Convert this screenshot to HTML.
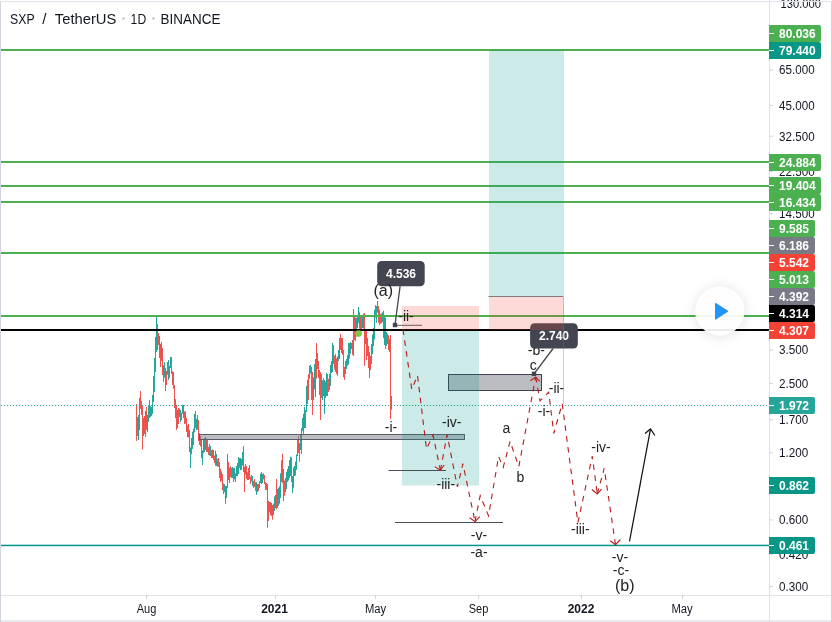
<!DOCTYPE html>
<html><head><meta charset="utf-8"><title>SXP / TetherUS</title>
<style>
html,body{margin:0;padding:0;background:#fff;}
body{width:832px;height:622px;overflow:hidden;font-family:"Liberation Sans",sans-serif;}
svg{display:block;will-change:transform;font-family:"Liberation Sans",sans-serif;font-size:12px;}
</style></head><body>
<svg width="832" height="622" viewBox="0 0 832 622">
<defs>
<filter id="sh" x="-40%" y="-40%" width="180%" height="180%"><feGaussianBlur stdDeviation="5"/></filter>
<clipPath id="chart"><rect x="1" y="1" width="768" height="594"/></clipPath>
</defs>
<rect width="832" height="622" fill="#fff"/>
<!-- candles -->
<g clip-path="url(#chart)">
<rect x="136" y="404.0" width="1" height="37.0" fill="#ef5350"/>
<rect x="137" y="417.0" width="1" height="19.0" fill="#ef5350"/>
<rect x="138" y="415.0" width="1" height="25.0" fill="#26a69a"/>
<rect x="139" y="398.0" width="1" height="32.0" fill="#26a69a"/>
<rect x="140" y="391.0" width="1" height="18.0" fill="#ef5350"/>
<rect x="141" y="401.0" width="1" height="14.0" fill="#ef5350"/>
<rect x="142" y="406.0" width="1" height="43.5" fill="#ef5350"/>
<rect x="143" y="418.0" width="1" height="18.0" fill="#26a69a"/>
<rect x="144" y="416.0" width="1" height="18.0" fill="#ef5350"/>
<rect x="145" y="411.0" width="1" height="26.0" fill="#26a69a"/>
<rect x="146" y="407.0" width="1" height="23.0" fill="#ef5350"/>
<rect x="147" y="415.0" width="1" height="17.0" fill="#26a69a"/>
<rect x="148" y="405.0" width="1" height="17.0" fill="#26a69a"/>
<rect x="149" y="400.0" width="1" height="18.0" fill="#ef5350"/>
<rect x="150" y="406.0" width="1" height="11.0" fill="#26a69a"/>
<rect x="151" y="407.0" width="1" height="9.0" fill="#ef5350"/>
<rect x="152" y="395.0" width="1" height="19.0" fill="#26a69a"/>
<rect x="153" y="376.0" width="1" height="26.0" fill="#26a69a"/>
<rect x="154" y="358.0" width="1" height="34.0" fill="#26a69a"/>
<rect x="155" y="337.0" width="1" height="35.0" fill="#26a69a"/>
<rect x="156" y="316.0" width="1" height="36.0" fill="#26a69a"/>
<rect x="157" y="324.0" width="1" height="26.0" fill="#ef5350"/>
<rect x="158" y="333.0" width="1" height="12.0" fill="#ef5350"/>
<rect x="159" y="336.0" width="1" height="22.0" fill="#26a69a"/>
<rect x="160" y="343.9" width="1" height="23.1" fill="#ef5350"/>
<rect x="161" y="342.0" width="1" height="18.9" fill="#26a69a"/>
<rect x="162" y="348.0" width="1" height="27.0" fill="#ef5350"/>
<rect x="163" y="365.2" width="1" height="16.8" fill="#ef5350"/>
<rect x="164" y="362.0" width="1" height="15.5" fill="#26a69a"/>
<rect x="165" y="368.0" width="1" height="23.0" fill="#26a69a"/>
<rect x="166" y="371.0" width="1" height="14.0" fill="#ef5350"/>
<rect x="167" y="362.0" width="1" height="12.8" fill="#26a69a"/>
<rect x="168" y="360.0" width="1" height="20.0" fill="#26a69a"/>
<rect x="169" y="365.7" width="1" height="12.3" fill="#ef5350"/>
<rect x="170" y="357.0" width="1" height="11.0" fill="#26a69a"/>
<rect x="171" y="357.0" width="1" height="17.0" fill="#ef5350"/>
<rect x="172" y="371.3" width="1" height="13.7" fill="#ef5350"/>
<rect x="173" y="372.0" width="1" height="16.7" fill="#ef5350"/>
<rect x="174" y="385.0" width="1" height="23.0" fill="#ef5350"/>
<rect x="175" y="399.1" width="1" height="18.9" fill="#ef5350"/>
<rect x="176" y="405.0" width="1" height="25.0" fill="#ef5350"/>
<rect x="177" y="410.0" width="1" height="18.0" fill="#26a69a"/>
<rect x="178" y="408.0" width="1" height="16.0" fill="#ef5350"/>
<rect x="179" y="408.6" width="1" height="8.4" fill="#ef5350"/>
<rect x="180" y="410.0" width="1" height="12.0" fill="#26a69a"/>
<rect x="181" y="412.8" width="1" height="7.2" fill="#26a69a"/>
<rect x="182" y="404.9" width="1" height="8.9" fill="#26a69a"/>
<rect x="183" y="405.0" width="1" height="13.0" fill="#26a69a"/>
<rect x="184" y="411.5" width="1" height="12.5" fill="#ef5350"/>
<rect x="185" y="411.3" width="1" height="12.2" fill="#ef5350"/>
<rect x="186" y="418.0" width="1" height="14.0" fill="#ef5350"/>
<rect x="187" y="425.4" width="1" height="11.6" fill="#26a69a"/>
<rect x="188" y="424.0" width="1" height="13.5" fill="#ef5350"/>
<rect x="189" y="430.0" width="1" height="22.0" fill="#ef5350"/>
<rect x="190" y="447.4" width="1" height="20.6" fill="#26a69a"/>
<rect x="191" y="438.0" width="1" height="16.2" fill="#26a69a"/>
<rect x="192" y="431.7" width="1" height="17.2" fill="#26a69a"/>
<rect x="193" y="428.6" width="1" height="16.4" fill="#26a69a"/>
<rect x="194" y="414.0" width="1" height="18.4" fill="#26a69a"/>
<rect x="195" y="411.0" width="1" height="17.0" fill="#ef5350"/>
<rect x="196" y="418.8" width="1" height="11.2" fill="#26a69a"/>
<rect x="197" y="415.0" width="1" height="14.7" fill="#ef5350"/>
<rect x="198" y="420.0" width="1" height="21.0" fill="#ef5350"/>
<rect x="199" y="433.2" width="1" height="11.8" fill="#ef5350"/>
<rect x="200" y="436.0" width="1" height="10.5" fill="#ef5350"/>
<rect x="201" y="440.0" width="1" height="18.0" fill="#ef5350"/>
<rect x="202" y="450.5" width="1" height="14.5" fill="#26a69a"/>
<rect x="203" y="440.0" width="1" height="13.3" fill="#26a69a"/>
<rect x="204" y="438.0" width="1" height="14.0" fill="#26a69a"/>
<rect x="205" y="437.0" width="1" height="13.0" fill="#ef5350"/>
<rect x="206" y="438.6" width="1" height="13.5" fill="#ef5350"/>
<rect x="207" y="440.0" width="1" height="12.0" fill="#ef5350"/>
<rect x="208" y="446.9" width="1" height="8.1" fill="#ef5350"/>
<rect x="209" y="444.1" width="1" height="11.5" fill="#ef5350"/>
<rect x="210" y="446.0" width="1" height="10.0" fill="#26a69a"/>
<rect x="211" y="450.2" width="1" height="7.8" fill="#ef5350"/>
<rect x="212" y="449.4" width="1" height="8.6" fill="#ef5350"/>
<rect x="213" y="450.0" width="1" height="10.0" fill="#26a69a"/>
<rect x="214" y="455.5" width="1" height="7.5" fill="#ef5350"/>
<rect x="215" y="450.7" width="1" height="15.1" fill="#26a69a"/>
<rect x="216" y="454.0" width="1" height="12.0" fill="#26a69a"/>
<rect x="217" y="458.9" width="1" height="7.7" fill="#ef5350"/>
<rect x="218" y="458.0" width="1" height="8.9" fill="#ef5350"/>
<rect x="219" y="462.0" width="1" height="16.0" fill="#ef5350"/>
<rect x="220" y="468.7" width="1" height="13.3" fill="#ef5350"/>
<rect x="221" y="471.6" width="1" height="9.2" fill="#ef5350"/>
<rect x="222" y="474.0" width="1" height="16.0" fill="#ef5350"/>
<rect x="223" y="483.4" width="1" height="10.6" fill="#ef5350"/>
<rect x="224" y="484.0" width="1" height="8.2" fill="#26a69a"/>
<rect x="225" y="486.0" width="1" height="18.0" fill="#ef5350"/>
<rect x="226" y="485.8" width="1" height="12.2" fill="#26a69a"/>
<rect x="227" y="454.0" width="1" height="34.1" fill="#26a69a"/>
<rect x="228" y="462.0" width="1" height="18.0" fill="#ef5350"/>
<rect x="229" y="467.7" width="1" height="15.3" fill="#26a69a"/>
<rect x="230" y="466.0" width="1" height="11.1" fill="#ef5350"/>
<rect x="231" y="467.7" width="1" height="10.2" fill="#ef5350"/>
<rect x="232" y="467.0" width="1" height="11.0" fill="#26a69a"/>
<rect x="233" y="468.0" width="1" height="14.0" fill="#ef5350"/>
<rect x="234" y="467.8" width="1" height="11.5" fill="#26a69a"/>
<rect x="235" y="473.3" width="1" height="8.7" fill="#26a69a"/>
<rect x="236" y="466.0" width="1" height="10.2" fill="#26a69a"/>
<rect x="237" y="462.9" width="1" height="13.2" fill="#26a69a"/>
<rect x="238" y="457.0" width="1" height="17.0" fill="#26a69a"/>
<rect x="239" y="458.0" width="1" height="9.8" fill="#ef5350"/>
<rect x="240" y="457.9" width="1" height="12.3" fill="#26a69a"/>
<rect x="241" y="459.0" width="1" height="11.0" fill="#26a69a"/>
<rect x="242" y="452.0" width="1" height="13.6" fill="#26a69a"/>
<rect x="243" y="446.0" width="1" height="26.0" fill="#ef5350"/>
<rect x="244" y="466.7" width="1" height="25.3" fill="#ef5350"/>
<rect x="245" y="464.0" width="1" height="10.6" fill="#26a69a"/>
<rect x="246" y="466.0" width="1" height="13.0" fill="#ef5350"/>
<rect x="247" y="472.2" width="1" height="7.8" fill="#ef5350"/>
<rect x="248" y="468.0" width="1" height="12.0" fill="#ef5350"/>
<rect x="249" y="465.0" width="1" height="14.0" fill="#26a69a"/>
<rect x="250" y="476.7" width="1" height="7.3" fill="#ef5350"/>
<rect x="251" y="474.9" width="1" height="6.6" fill="#ef5350"/>
<rect x="252" y="476.0" width="1" height="10.0" fill="#26a69a"/>
<rect x="253" y="480.8" width="1" height="7.2" fill="#ef5350"/>
<rect x="254" y="479.0" width="1" height="7.7" fill="#ef5350"/>
<rect x="255" y="482.1" width="1" height="8.8" fill="#ef5350"/>
<rect x="256" y="482.0" width="1" height="13.0" fill="#26a69a"/>
<rect x="257" y="484.0" width="1" height="8.0" fill="#26a69a"/>
<rect x="258" y="484.0" width="1" height="7.0" fill="#ef5350"/>
<rect x="259" y="481.2" width="1" height="6.8" fill="#26a69a"/>
<rect x="260" y="473.6" width="1" height="9.6" fill="#26a69a"/>
<rect x="261" y="472.0" width="1" height="12.0" fill="#26a69a"/>
<rect x="262" y="474.0" width="1" height="9.0" fill="#26a69a"/>
<rect x="263" y="473.3" width="1" height="6.1" fill="#ef5350"/>
<rect x="264" y="475.0" width="1" height="9.0" fill="#ef5350"/>
<rect x="265" y="482.1" width="1" height="7.9" fill="#ef5350"/>
<rect x="266" y="483.0" width="1" height="6.9" fill="#ef5350"/>
<rect x="267" y="484.0" width="1" height="43.7" fill="#ef5350"/>
<rect x="268" y="500.8" width="1" height="20.2" fill="#ef5350"/>
<rect x="269" y="502.0" width="1" height="10.0" fill="#ef5350"/>
<rect x="270" y="502.0" width="1" height="13.0" fill="#ef5350"/>
<rect x="271" y="503.0" width="1" height="13.0" fill="#26a69a"/>
<rect x="272" y="505.0" width="1" height="14.6" fill="#ef5350"/>
<rect x="273" y="503.7" width="1" height="11.3" fill="#26a69a"/>
<rect x="274" y="496.4" width="1" height="14.6" fill="#26a69a"/>
<rect x="275" y="495.0" width="1" height="13.0" fill="#26a69a"/>
<rect x="276" y="479.0" width="1" height="30.5" fill="#ef5350"/>
<rect x="277" y="489.0" width="1" height="19.0" fill="#26a69a"/>
<rect x="278" y="487.8" width="1" height="18.2" fill="#26a69a"/>
<rect x="279" y="486.3" width="1" height="17.4" fill="#26a69a"/>
<rect x="280" y="473.3" width="1" height="24.6" fill="#26a69a"/>
<rect x="281" y="460.3" width="1" height="21.7" fill="#26a69a"/>
<rect x="282" y="453.7" width="1" height="29.7" fill="#ef5350"/>
<rect x="283" y="469.0" width="1" height="31.8" fill="#ef5350"/>
<rect x="284" y="480.5" width="1" height="15.2" fill="#ef5350"/>
<rect x="285" y="478.0" width="1" height="14.0" fill="#26a69a"/>
<rect x="286" y="471.8" width="1" height="17.4" fill="#26a69a"/>
<rect x="287" y="469.0" width="1" height="13.0" fill="#26a69a"/>
<rect x="288" y="466.0" width="1" height="14.5" fill="#26a69a"/>
<rect x="289" y="460.0" width="1" height="18.0" fill="#26a69a"/>
<rect x="290" y="456.6" width="1" height="19.4" fill="#26a69a"/>
<rect x="291" y="457.4" width="1" height="24.6" fill="#ef5350"/>
<rect x="292" y="476.0" width="1" height="16.8" fill="#26a69a"/>
<rect x="293" y="467.5" width="1" height="20.3" fill="#26a69a"/>
<rect x="294" y="466.0" width="1" height="10.0" fill="#26a69a"/>
<rect x="295" y="461.7" width="1" height="13.8" fill="#ef5350"/>
<rect x="296" y="454.5" width="1" height="15.5" fill="#26a69a"/>
<rect x="297" y="440.0" width="1" height="16.0" fill="#26a69a"/>
<rect x="298" y="436.0" width="1" height="17.0" fill="#ef5350"/>
<rect x="299" y="443.0" width="1" height="18.7" fill="#26a69a"/>
<rect x="300" y="434.0" width="1" height="16.0" fill="#26a69a"/>
<rect x="301" y="428.0" width="1" height="25.7" fill="#26a69a"/>
<rect x="302" y="418.0" width="1" height="13.0" fill="#26a69a"/>
<rect x="303" y="413.8" width="1" height="20.0" fill="#26a69a"/>
<rect x="304" y="407.0" width="1" height="21.0" fill="#26a69a"/>
<rect x="305" y="410.0" width="1" height="18.0" fill="#ef5350"/>
<rect x="306" y="386.0" width="1" height="26.0" fill="#26a69a"/>
<rect x="307" y="379.8" width="1" height="24.2" fill="#26a69a"/>
<rect x="308" y="374.0" width="1" height="26.0" fill="#ef5350"/>
<rect x="309" y="365.7" width="1" height="13.0" fill="#26a69a"/>
<rect x="310" y="365.0" width="1" height="8.6" fill="#26a69a"/>
<rect x="311" y="367.0" width="1" height="33.0" fill="#ef5350"/>
<rect x="312" y="372.0" width="1" height="43.0" fill="#ef5350"/>
<rect x="313" y="377.4" width="1" height="22.6" fill="#26a69a"/>
<rect x="314" y="364.0" width="1" height="25.5" fill="#26a69a"/>
<rect x="315" y="359.0" width="1" height="38.0" fill="#26a69a"/>
<rect x="316" y="343.0" width="1" height="35.7" fill="#ef5350"/>
<rect x="317" y="353.0" width="1" height="16.0" fill="#26a69a"/>
<rect x="318" y="361.0" width="1" height="17.0" fill="#ef5350"/>
<rect x="319" y="370.0" width="1" height="25.0" fill="#ef5350"/>
<rect x="320" y="372.0" width="1" height="48.0" fill="#ef5350"/>
<rect x="321" y="374.0" width="1" height="24.0" fill="#ef5350"/>
<rect x="322" y="380.2" width="1" height="19.8" fill="#26a69a"/>
<rect x="323" y="378.0" width="1" height="18.0" fill="#ef5350"/>
<rect x="324" y="380.0" width="1" height="34.0" fill="#26a69a"/>
<rect x="325" y="381.3" width="1" height="16.7" fill="#26a69a"/>
<rect x="326" y="373.0" width="1" height="23.0" fill="#26a69a"/>
<rect x="327" y="374.0" width="1" height="22.0" fill="#ef5350"/>
<rect x="328" y="378.7" width="1" height="13.3" fill="#ef5350"/>
<rect x="329" y="374.0" width="1" height="16.0" fill="#26a69a"/>
<rect x="330" y="365.0" width="1" height="21.0" fill="#26a69a"/>
<rect x="331" y="361.0" width="1" height="12.0" fill="#26a69a"/>
<rect x="332" y="342.9" width="1" height="29.1" fill="#26a69a"/>
<rect x="333" y="345.0" width="1" height="18.9" fill="#ef5350"/>
<rect x="334" y="355.5" width="1" height="13.8" fill="#ef5350"/>
<rect x="335" y="354.0" width="1" height="18.0" fill="#ef5350"/>
<rect x="336" y="358.4" width="1" height="15.6" fill="#ef5350"/>
<rect x="337" y="356.3" width="1" height="19.5" fill="#26a69a"/>
<rect x="338" y="350.0" width="1" height="11.0" fill="#26a69a"/>
<rect x="339" y="338.0" width="1" height="21.0" fill="#26a69a"/>
<rect x="340" y="334.0" width="1" height="16.0" fill="#ef5350"/>
<rect x="341" y="338.0" width="1" height="15.0" fill="#26a69a"/>
<rect x="342" y="338.0" width="1" height="16.8" fill="#ef5350"/>
<rect x="343" y="350.0" width="1" height="27.2" fill="#ef5350"/>
<rect x="344" y="367.0" width="1" height="12.8" fill="#ef5350"/>
<rect x="345" y="361.0" width="1" height="13.0" fill="#26a69a"/>
<rect x="346" y="359.0" width="1" height="10.0" fill="#26a69a"/>
<rect x="347" y="355.0" width="1" height="10.7" fill="#ef5350"/>
<rect x="348" y="343.0" width="1" height="21.6" fill="#26a69a"/>
<rect x="349" y="343.0" width="1" height="15.8" fill="#ef5350"/>
<rect x="350" y="342.0" width="1" height="11.7" fill="#26a69a"/>
<rect x="351" y="343.0" width="1" height="6.0" fill="#26a69a"/>
<rect x="352" y="340.0" width="1" height="14.8" fill="#ef5350"/>
<rect x="353" y="309.0" width="1" height="47.0" fill="#26a69a"/>
<rect x="354" y="317.0" width="1" height="23.0" fill="#ef5350"/>
<rect x="355" y="317.5" width="1" height="23.5" fill="#ef5350"/>
<rect x="356" y="317.7" width="1" height="18.8" fill="#26a69a"/>
<rect x="357" y="317.0" width="1" height="11.0" fill="#26a69a"/>
<rect x="358" y="307.0" width="1" height="16.0" fill="#26a69a"/>
<rect x="359" y="312.3" width="1" height="16.3" fill="#ef5350"/>
<rect x="360" y="317.0" width="1" height="12.0" fill="#ef5350"/>
<rect x="361" y="317.0" width="1" height="12.0" fill="#ef5350"/>
<rect x="362" y="317.0" width="1" height="11.0" fill="#26a69a"/>
<rect x="363" y="313.7" width="1" height="14.9" fill="#26a69a"/>
<rect x="364" y="313.0" width="1" height="53.0" fill="#ef5350"/>
<rect x="365" y="330.7" width="1" height="13.3" fill="#ef5350"/>
<rect x="366" y="331.0" width="1" height="29.0" fill="#ef5350"/>
<rect x="367" y="338.0" width="1" height="18.0" fill="#ef5350"/>
<rect x="368" y="346.0" width="1" height="22.0" fill="#ef5350"/>
<rect x="369" y="352.0" width="1" height="26.0" fill="#ef5350"/>
<rect x="370" y="356.0" width="1" height="14.0" fill="#ef5350"/>
<rect x="371" y="344.0" width="1" height="20.0" fill="#26a69a"/>
<rect x="372" y="334.4" width="1" height="19.6" fill="#26a69a"/>
<rect x="373" y="327.8" width="1" height="18.2" fill="#26a69a"/>
<rect x="374" y="309.7" width="1" height="29.7" fill="#26a69a"/>
<rect x="375" y="305.0" width="1" height="12.7" fill="#ef5350"/>
<rect x="376" y="306.0" width="1" height="16.8" fill="#26a69a"/>
<rect x="377" y="301.0" width="1" height="11.6" fill="#26a69a"/>
<rect x="378" y="306.0" width="1" height="16.8" fill="#ef5350"/>
<rect x="379" y="309.7" width="1" height="15.3" fill="#ef5350"/>
<rect x="380" y="314.0" width="1" height="9.5" fill="#ef5350"/>
<rect x="381" y="313.4" width="1" height="10.1" fill="#26a69a"/>
<rect x="382" y="312.3" width="1" height="9.7" fill="#26a69a"/>
<rect x="383" y="310.8" width="1" height="27.2" fill="#ef5350"/>
<rect x="384" y="317.0" width="1" height="28.0" fill="#26a69a"/>
<rect x="385" y="317.7" width="1" height="31.3" fill="#ef5350"/>
<rect x="386" y="332.0" width="1" height="14.0" fill="#26a69a"/>
<rect x="387" y="333.6" width="1" height="10.4" fill="#ef5350"/>
<rect x="388" y="335.4" width="1" height="14.6" fill="#ef5350"/>
<rect x="389" y="338.7" width="1" height="13.3" fill="#ef5350"/>
<rect x="390" y="335.0" width="1" height="84.0" fill="#ef5350"/>
<rect x="391" y="396.0" width="1" height="13.7" fill="#26a69a"/>
</g>
<!-- horizontal levels -->
<rect x="1" y="49.0" width="768" height="2" fill="#4caf50"/>
<rect x="1" y="161.0" width="768" height="2" fill="#4caf50"/>
<rect x="1" y="185.0" width="768" height="2" fill="#4caf50"/>
<rect x="1" y="201.0" width="768" height="2" fill="#4caf50"/>
<rect x="1" y="252.0" width="768" height="2" fill="#4caf50"/>
<rect x="1" y="315.0" width="768" height="2" fill="#4caf50"/>
<rect x="1" y="329" width="768" height="2" fill="#000"/>
<rect x="1" y="544.7" width="768" height="1.5" fill="#009688"/>
<path d="M0.9 405.5H769" stroke="#26a69a" stroke-width="1.15" stroke-dasharray="1.2 1.8"/>

<!-- green dot -->
<circle cx="358.6" cy="333.6" r="3.3" fill="#7dc846"/>
<!-- thin grey support boxes -->
<rect x="199.5" y="434.5" width="265" height="5" fill="#787b86" fill-opacity="0.5" stroke="#585c68" stroke-width="1"/>
<rect x="448.5" y="374.5" width="93" height="16" fill="#787b86" fill-opacity="0.5" stroke="#3d424e" stroke-width="1"/>
<!-- position tools -->
<rect x="402" y="306" width="77" height="24" fill="#f44336" fill-opacity="0.2"/>
<rect x="402" y="331" width="77" height="154.5" fill="#009688" fill-opacity="0.2"/>
<rect x="489" y="50" width="75" height="246.5" fill="#009688" fill-opacity="0.2"/>
<path d="M488.5 296.5H563" stroke="#5d606b" stroke-width="0.8"/>
<!-- thin lines -->
<path d="M388.5 470.5H446" stroke="#4a4e5a" stroke-width="1"/>
<path d="M395 522.5H503" stroke="#4a4e5a" stroke-width="1"/>
<path d="M397 325.3H422" stroke="#6b5b5b" stroke-width="1"/>
<!-- dashed projection -->
<path d="M403.0 329.5 L411.8 389.4 L417.5 375.4 L426.5 449.0 L433.0 435.0 L440.4 470.3" fill="none" stroke="#b71c1c" stroke-width="1.1" stroke-dasharray="5.6 5.3"/>
<path d="M440.4 470.3 L447.1 434.7 L457.4 486.9 L462.9 463.7 L475.0 521.6" fill="none" stroke="#b71c1c" stroke-width="1.1" stroke-dasharray="5.6 5.3"/>
<path d="M475.0 521.6 L480.2 495.6 L488.5 515.8 L498.6 456.5 L503.2 467.4 L510.1 441.3 L518.8 466.6 L535.7 377.0" fill="none" stroke="#b71c1c" stroke-width="1.1" stroke-dasharray="5.6 5.3"/>
<path d="M535.7 377.0 L540.0 400.9 L548.7 392.2 L553.8 433.4 L562.2 403.7 L577.9 522.6 L592.3 456.2 L597.3 493.9" fill="none" stroke="#b71c1c" stroke-width="1.1" stroke-dasharray="5.6 5.3"/>
<path d="M597.3 493.9 L604.2 468.3 L615.5 544.7" fill="none" stroke="#b71c1c" stroke-width="1.1" stroke-dasharray="5.6 5.3"/>
<path d="M434.8 466.6L440.4 470.3L444.2 465" fill="none" stroke="#b71c1c" stroke-width="1.1"/><path d="M469.7 517.7L475 521.6L479.8 516.6" fill="none" stroke="#b71c1c" stroke-width="1.1"/><path d="M530.4 380.7L535.7 377L539.6 381.4" fill="none" stroke="#b71c1c" stroke-width="1.1"/><path d="M591.9 489.5L597.3 493.9L601.6 489.1" fill="none" stroke="#b71c1c" stroke-width="1.1"/><path d="M610.3 540.7L615.5 544.7L620.4 539.5" fill="none" stroke="#b71c1c" stroke-width="1.1"/>
<!-- black arrow -->
<path d="M629.5 541.4L650.5 429" stroke="#111" stroke-width="1.25" fill="none"/>
<path d="M645 433.5L650.5 429L654.9 435.5" stroke="#111" stroke-width="1.25" fill="none"/>
<!-- callouts -->
<path d="M395 325L400.1 286.2" stroke="#434651" stroke-width="1.3"/>
<rect x="392.8" y="322.8" width="4.4" height="4.4" fill="#434651"/>
<rect x="377.2" y="261" width="47.5" height="25.2" rx="4.5" fill="#434651"/>
<text x="401" y="277.9" text-anchor="middle" font-weight="700" fill="#fff">4.536</text>
<path d="M534 373.8L553.1 348.5" stroke="#434651" stroke-width="1.3"/>
<rect x="531.8" y="371.6" width="4.4" height="4.4" fill="#434651"/>
<g font-size="14px" fill="#222">
<text x="383.3" y="295.6" text-anchor="middle" font-size="16px">(a)</text>
<text x="406" y="320.6" text-anchor="middle">-ii-</text>
<text x="391" y="431.5" text-anchor="middle">-i-</text>
<text x="451.8" y="427" text-anchor="middle">-iv-</text>
<text x="445.8" y="489.3" text-anchor="middle">-iii-</text>
<text x="479" y="540" text-anchor="middle">-v-</text>
<text x="479" y="557" text-anchor="middle">-a-</text>
<text x="506.4" y="433.2" text-anchor="middle">a</text>
<text x="520.4" y="481.8" text-anchor="middle">b</text>
<text x="536.4" y="354.8" text-anchor="middle">-b-</text>
<text x="533.2" y="369.6" text-anchor="middle">c</text>
<text x="556.5" y="393.4" text-anchor="middle">-ii-</text>
<text x="544" y="415.6" text-anchor="middle">-i-</text>
<text x="601" y="451.6" text-anchor="middle">-iv-</text>
<text x="580.3" y="534.3" text-anchor="middle">-iii-</text>
<text x="620" y="561.6" text-anchor="middle">-v-</text>
<text x="621" y="574.6" text-anchor="middle">-c-</text>
<text x="624.8" y="591" text-anchor="middle" font-size="16px">(b)</text>
</g>
<rect x="530.1" y="323.3" width="47.7" height="25.2" rx="4.5" fill="#434651"/>
<text x="554" y="340.1" text-anchor="middle" font-weight="700" fill="#fff">2.740</text>
<rect x="489" y="296.5" width="75" height="33.5" fill="#f44336" fill-opacity="0.2"/>
<path d="M563.5 296.5V404" stroke="#f44336" stroke-opacity="0.35" stroke-width="1"/>
<!-- title -->
<g font-size="15.2px" fill="#131722">
<text x="10.1" y="24" textLength="24.6" lengthAdjust="spacingAndGlyphs">SXP</text>
<text x="42.2" y="24">/</text>
<text x="54.8" y="24" textLength="61.6" lengthAdjust="spacingAndGlyphs">TetherUS</text>
<text x="130.6" y="24" textLength="15.6" lengthAdjust="spacingAndGlyphs">1D</text>
<text x="160.6" y="24" textLength="59.8" lengthAdjust="spacingAndGlyphs">BINANCE</text>
<rect x="122.4" y="17.6" width="2.2" height="1.8" fill="#b2b5be"/><rect x="152.4" y="17.6" width="2.2" height="1.8" fill="#b2b5be"/>
</g>
<!-- price axis -->
<rect x="769" y="0" width="63" height="622" fill="#fff"/>
<path d="M769.5 0V621" stroke="#e0e3eb" stroke-width="1"/>
<text x="780.6" y="7.9" fill="#131722" textLength="40.4" lengthAdjust="spacingAndGlyphs">130.000</text>
<path d="M769 70.0h4" stroke="#d1d4dc" stroke-width="1"/><text x="779" y="74.4" fill="#131722" textLength="35.6" lengthAdjust="spacingAndGlyphs">65.000</text>
<path d="M769 105.4h4" stroke="#d1d4dc" stroke-width="1"/><text x="779" y="109.8" fill="#131722" textLength="35.6" lengthAdjust="spacingAndGlyphs">45.000</text>
<path d="M769 136.2h4" stroke="#d1d4dc" stroke-width="1"/><text x="779" y="140.6" fill="#131722" textLength="35.6" lengthAdjust="spacingAndGlyphs">32.500</text>
<path d="M769 171.4h4" stroke="#d1d4dc" stroke-width="1"/><text x="779" y="175.8" fill="#131722" textLength="35.6" lengthAdjust="spacingAndGlyphs">22.500</text>
<path d="M769 213.7h4" stroke="#d1d4dc" stroke-width="1"/><text x="779" y="218.1" fill="#131722" textLength="35.6" lengthAdjust="spacingAndGlyphs">14.500</text>
<path d="M769 350.0h4" stroke="#d1d4dc" stroke-width="1"/><text x="779" y="354.4" fill="#131722" textLength="29.2" lengthAdjust="spacingAndGlyphs">3.500</text>
<path d="M769 383.4h4" stroke="#d1d4dc" stroke-width="1"/><text x="779" y="387.8" fill="#131722" textLength="29.2" lengthAdjust="spacingAndGlyphs">2.500</text>
<path d="M769 419.8h4" stroke="#d1d4dc" stroke-width="1"/><text x="779" y="424.2" fill="#131722" textLength="29.2" lengthAdjust="spacingAndGlyphs">1.700</text>
<path d="M769 452.8h4" stroke="#d1d4dc" stroke-width="1"/><text x="779" y="457.2" fill="#131722" textLength="29.2" lengthAdjust="spacingAndGlyphs">1.200</text>
<path d="M769 519.9h4" stroke="#d1d4dc" stroke-width="1"/><text x="779" y="524.3" fill="#131722" textLength="29.2" lengthAdjust="spacingAndGlyphs">0.600</text>
<path d="M769 554.2h4" stroke="#d1d4dc" stroke-width="1"/><text x="779" y="558.6" fill="#131722" textLength="29.2" lengthAdjust="spacingAndGlyphs">0.420</text>
<path d="M769 586.6h4" stroke="#d1d4dc" stroke-width="1"/><text x="779" y="591.0" fill="#131722" textLength="29.2" lengthAdjust="spacingAndGlyphs">0.300</text>

<path d="M769 25.0h50a2 2 0 0 1 2 2v13a2 2 0 0 1 -2 2h-50z" fill="#4caf50"/><path d="M769 33.5h5" stroke="#fff" stroke-width="1"/><text x="779" y="37.9" font-weight="700" fill="#fff">80.036</text>
<path d="M769 42.0h50a2 2 0 0 1 2 2v13a2 2 0 0 1 -2 2h-50z" fill="#089686"/><path d="M769 50.5h5" stroke="#fff" stroke-width="1"/><text x="779" y="54.9" font-weight="700" fill="#fff">79.440</text>
<path d="M769 154.0h50a2 2 0 0 1 2 2v13a2 2 0 0 1 -2 2h-50z" fill="#4caf50"/><path d="M769 162.5h5" stroke="#fff" stroke-width="1"/><text x="779" y="166.9" font-weight="700" fill="#fff">24.884</text>
<path d="M769 177.0h50a2 2 0 0 1 2 2v13a2 2 0 0 1 -2 2h-50z" fill="#4caf50"/><path d="M769 185.5h5" stroke="#fff" stroke-width="1"/><text x="779" y="189.9" font-weight="700" fill="#fff">19.404</text>
<path d="M769 194.0h50a2 2 0 0 1 2 2v13a2 2 0 0 1 -2 2h-50z" fill="#4caf50"/><path d="M769 202.5h5" stroke="#fff" stroke-width="1"/><text x="779" y="206.9" font-weight="700" fill="#fff">16.434</text>
<path d="M769 220.0h44a2 2 0 0 1 2 2v13a2 2 0 0 1 -2 2h-44z" fill="#4caf50"/><path d="M769 228.5h5" stroke="#fff" stroke-width="1"/><text x="779" y="232.9" font-weight="700" fill="#fff">9.585</text>
<path d="M769 237.0h44a2 2 0 0 1 2 2v13a2 2 0 0 1 -2 2h-44z" fill="#787b86"/><path d="M769 245.5h5" stroke="#fff" stroke-width="1"/><text x="779" y="249.9" font-weight="700" fill="#fff">6.186</text>
<path d="M769 254.0h44a2 2 0 0 1 2 2v13a2 2 0 0 1 -2 2h-44z" fill="#f44336"/><path d="M769 262.5h5" stroke="#fff" stroke-width="1"/><text x="779" y="266.9" font-weight="700" fill="#fff">5.542</text>
<path d="M769 271.0h44a2 2 0 0 1 2 2v13a2 2 0 0 1 -2 2h-44z" fill="#4caf50"/><path d="M769 279.5h5" stroke="#fff" stroke-width="1"/><text x="779" y="283.9" font-weight="700" fill="#fff">5.013</text>
<path d="M769 288.0h44a2 2 0 0 1 2 2v13a2 2 0 0 1 -2 2h-44z" fill="#787b86"/><path d="M769 296.5h5" stroke="#fff" stroke-width="1"/><text x="779" y="300.9" font-weight="700" fill="#fff">4.392</text>
<path d="M769 305.0h44a2 2 0 0 1 2 2v13a2 2 0 0 1 -2 2h-44z" fill="#000"/><path d="M769 313.5h5" stroke="#fff" stroke-width="1"/><text x="779" y="317.9" font-weight="700" fill="#fff">4.314</text>
<path d="M769 322.0h44a2 2 0 0 1 2 2v13a2 2 0 0 1 -2 2h-44z" fill="#f44336"/><path d="M769 330.5h5" stroke="#fff" stroke-width="1"/><text x="779" y="334.9" font-weight="700" fill="#fff">4.307</text>
<path d="M769 397.0h44a2 2 0 0 1 2 2v13a2 2 0 0 1 -2 2h-44z" fill="#26a69a"/><path d="M769 405.5h5" stroke="#fff" stroke-width="1"/><text x="779" y="409.9" font-weight="700" fill="#fff">1.972</text>
<path d="M769 477.0h44a2 2 0 0 1 2 2v13a2 2 0 0 1 -2 2h-44z" fill="#089686"/><path d="M769 485.5h5" stroke="#fff" stroke-width="1"/><text x="779" y="489.9" font-weight="700" fill="#fff">0.862</text>
<path d="M769 537.0h44a2 2 0 0 1 2 2v13a2 2 0 0 1 -2 2h-44z" fill="#089686"/><path d="M769 545.5h5" stroke="#fff" stroke-width="1"/><text x="779" y="549.9" font-weight="700" fill="#fff">0.461</text>

<!-- time axis -->
<rect x="0" y="595" width="832" height="27" fill="#fff"/>
<path d="M0 595.5H832" stroke="#e0e3eb" stroke-width="1"/>
<path d="M769.5 595V621" stroke="#e0e3eb" stroke-width="1"/>
<g fill="#131722" text-anchor="middle">
<path d="M146.5 595v4M275.5 595v4M375.5 595v4M478.5 595v4M581.5 595v4M682.5 595v4" stroke="#d1d4dc" stroke-width="1"/>
<text x="146.5" y="613.3" textLength="19.6" lengthAdjust="spacingAndGlyphs">Aug</text>
<text x="274.5" y="613.3" font-weight="700">2021</text>
<text x="375.5" y="613.3" textLength="21.2" lengthAdjust="spacingAndGlyphs">May</text>
<text x="478.5" y="613.3" textLength="19.6" lengthAdjust="spacingAndGlyphs">Sep</text>
<text x="581" y="613.3" font-weight="700">2022</text>
<text x="682" y="613.3" textLength="21.2" lengthAdjust="spacingAndGlyphs">May</text>
</g>
<!-- play button -->
<circle cx="719.8" cy="312" r="27" fill="#000" fill-opacity="0.08" filter="url(#sh)"/>
<circle cx="719.8" cy="311" r="24.7" fill="#fff" fill-opacity="0.92"/>
<path d="M715.6 303.6L727.6 311.3L715.6 319z" fill="#2196f3" stroke="#2196f3" stroke-width="1.2" stroke-linejoin="round"/>
<!-- outer border -->
<path d="M0.5 1V622M831.5 1V622" stroke="#d1d4dc" stroke-width="1" fill="none"/><path d="M0 1.5H832" stroke="#e0e3eb" stroke-width="1"/>
<path d="M0 621H832" stroke="#d1d4dc" stroke-width="1.2"/>
</svg>
</body></html>
